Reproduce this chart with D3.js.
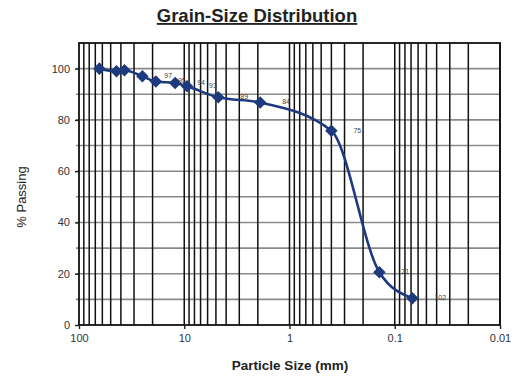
<!DOCTYPE html>
<html lang="en">
<head>
    <meta charset="UTF-8">
    <title>Grain-Size Distribution</title>
    <script src="https://d3js.org/d3.v7.min.js"></script>
    <style>
        body { margin: 0; background: #fff; }
        text { font-family: "Liberation Sans", Arial, sans-serif; }
    </style>
</head>
<body>
    <svg id="chart"></svg>

    <script>
        // sieve sizes (mm) and % passing
        const sizes   = [64, 44, 37, 25, 18.6, 12.2, 9.4, 4.75, 1.9, 0.4, 0.14, 0.068];
        const passing = [100, 99, 99.4, 97, 95, 94.4, 93.1, 88.8, 86.8, 75.8, 20.6, 10.4];
        const pointLabels = ["", "", "", "97", "95", "94", "93", "89", "84", "75", "21", "102"];
        const xTicks = [100, 10, 1, 0.1, 0.01];
        const yTicks = [0, 20, 40, 60, 80, 100];

        const width = 527;
        const height = 376;
        const margin = { top: 43, right: 27, bottom: 51, left: 79 };

        const svg = d3.select("#chart")
            .attr("width", width)
            .attr("height", height);

        const x = d3.scaleLog()
            .domain([100, 0.01])
            .range([margin.left, width - margin.right]);

        const y = d3.scaleLinear()
            .domain([0, 110])
            .range([height - margin.bottom, margin.top]);

        // horizontal grid every 10%
        svg.append("g")
            .selectAll("line")
            .data(d3.range(10, 110, 10))
            .join("line")
            .attr("x1", margin.left - 3)
            .attr("x2", width - margin.right)
            .attr("y1", d => y(d))
            .attr("y2", d => y(d))
            .attr("stroke", "#8a8a8a")
            .attr("stroke-width", 1.6);

        // vertical log grid
        const vLines = [];
        for (let e = -2; e < 2; e++) {
            for (let m = 1; m <= 9; m++) vLines.push(m * Math.pow(10, e));
        }
        svg.append("g")
            .selectAll("line")
            .data(vLines)
            .join("line")
            .attr("x1", d => x(d))
            .attr("x2", d => x(d))
            .attr("y1", y(110))
            .attr("y2", y(0))
            .attr("stroke", "#111")
            .attr("stroke-width", 1.5);

        // frame
        svg.append("rect")
            .attr("x", margin.left)
            .attr("y", margin.top)
            .attr("width", width - margin.left - margin.right)
            .attr("height", height - margin.top - margin.bottom)
            .attr("fill", "none")
            .attr("stroke", "#111")
            .attr("stroke-width", 1.8);

        // axes
        const xAxis = svg.append("g")
            .attr("transform", `translate(0,${y(0)})`)
            .call(d3.axisBottom(x).tickValues(xTicks).tickFormat(d => d3.format("~g")(d)).tickSize(4).tickPadding(5));
        const yAxis = svg.append("g")
            .attr("transform", `translate(${margin.left},0)`)
            .call(d3.axisLeft(y).tickValues(yTicks).tickSize(4).tickPadding(5));
        [xAxis, yAxis].forEach(a => {
            a.select(".domain").remove();
            a.selectAll("line").attr("stroke", "#222").attr("stroke-width", 1.4);
            a.selectAll("text").attr("fill", "#333").style("font-size", "11px");
        });

        const data = sizes.map((s, i) => ({ s, p: passing[i], label: pointLabels[i] }));

        const line = d3.line()
            .x(d => x(d.s))
            .y(d => y(d.p))
            .curve(d3.curveMonotoneX);

        svg.append("path")
            .datum(data)
            .attr("d", line)
            .attr("fill", "none")
            .attr("stroke", "#1d3a7e")
            .attr("stroke-width", 2.6);

        svg.append("g")
            .selectAll("path")
            .data(data)
            .join("path")
            .attr("d", d3.symbol(d3.symbolDiamond2, 100))
            .attr("transform", d => `translate(${x(d.s)},${y(d.p)})`)
            .attr("fill", "#1d3a7e");

        svg.append("g")
            .selectAll("text")
            .data(data)
            .join("text")
            .attr("x", d => x(d.s) + 22)
            .attr("y", d => y(d.p) + 2)
            .attr("fill", "#444")
            .style("font-size", "7px")
            .text(d => d.label);

        // titles
        svg.append("text")
            .attr("x", 257)
            .attr("y", 22)
            .attr("text-anchor", "middle")
            .style("font-size", "18.5px")
            .style("font-weight", "bold")
            .attr("fill", "#222")
            .attr("text-decoration", "underline")
            .text("Grain-Size Distribution");

        svg.append("text")
            .attr("x", 290)
            .attr("y", 370)
            .attr("text-anchor", "middle")
            .style("font-size", "13.5px")
            .style("font-weight", "bold")
            .attr("fill", "#222")
            .text("Particle Size (mm)");

        svg.append("text")
            .attr("transform", "translate(26,197) rotate(-90)")
            .attr("text-anchor", "middle")
            .style("font-size", "13px")
            .attr("fill", "#222")
            .text("% Passing");
    </script>
</body>
</html>
